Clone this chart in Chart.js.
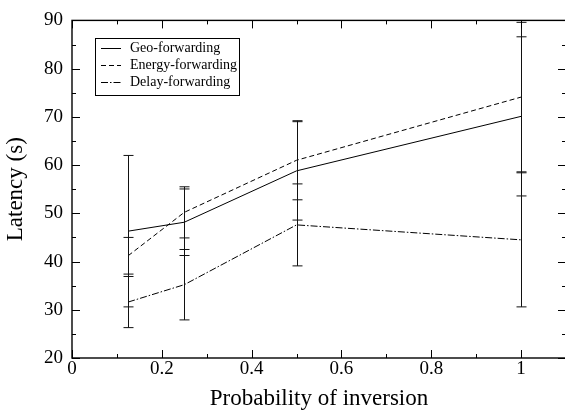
<!DOCTYPE html>
<html><head><meta charset="utf-8">
<script src="https://cdn.jsdelivr.net/npm/chart.js@4/dist/chart.umd.min.js"></script>
<style>html,body{margin:0;padding:0;overflow:hidden;background:#fff}
#wrap{width:567px;height:415px;position:relative}</style>
</head><body><div id="wrap"><canvas id="c" width="567" height="415"></canvas></div>
<script>
const probabilities = [0.125, 0.25, 0.5, 1];
const seriesNames = ['Geo-forwarding', 'Energy-forwarding', 'Delay-forwarding'];
const geoLatency = [46.3, 48.15, 58.8, 70.1];
const geoError = [15.7, 6.9, 10.2, 16.5];
const energyLatency = [41.2, 50.2, 61.0, 74.1];
const energyError = [3.8, 5.3, 8.2, 15.5];
const delayLatency = [31.6, 35.2, 47.6, 44.5];
const delayError = [5.3, 7.3, 8.5, 13.9];
const xTickValues = [0, 0.2, 0.4, 0.6, 0.8, 1];
const xTickLabels = ['0', '0.2', '0.4', '0.6', '0.8', '1'];
const yTickValues = [20, 30, 40, 50, 60, 70, 80, 90];
const yTickLabels = ['20', '30', '40', '50', '60', '70', '80', '90'];
const xMin = 0, xMax = 1.1, yMin = 20, yMax = 90;
const xTitle = 'Probability of inversion';
const yTitle = 'Latency (s)';

const serif = "'Liberation Serif', 'Times New Roman', serif";
const dashes = [[], [5, 3], [7, 2, 1.5, 2]];
const seriesValues = [geoLatency, energyLatency, delayLatency];
const seriesErrors = [geoError, energyError, delayError];

const datasets = seriesNames.map((name, i) => ({
  label: name,
  data: probabilities.map((p, j) => ({x: p, y: seriesValues[i][j]})),
  errors: seriesErrors[i],
  borderColor: '#000',
  borderWidth: 1,
  borderDash: dashes[i],
  pointRadius: 0,
  showLine: true,
  tension: 0,
  fill: false
}));

const framePlugin = {
  id: 'frame',
  afterDatasetsDraw(chart) {
    const {ctx, chartArea: a, scales: {x, y}} = chart;
    ctx.save();
    // error bars
    ctx.strokeStyle = '#111';
    ctx.lineWidth = 1;
    chart.data.datasets.forEach(ds => {
      ds.data.forEach((pt, j) => {
        const px = Math.round(x.getPixelForValue(pt.x)) + 0.5;
        const top = y.getPixelForValue(pt.y + ds.errors[j]);
        const bot = y.getPixelForValue(pt.y - ds.errors[j]);
        ctx.beginPath();
        ctx.moveTo(px, top); ctx.lineTo(px, bot);
        ctx.moveTo(px - 5, top); ctx.lineTo(px + 5, top);
        ctx.moveTo(px - 5, bot); ctx.lineTo(px + 5, bot);
        ctx.stroke();
      });
    });
    // frame
    ctx.strokeStyle = '#000';
    ctx.lineWidth = 1.4;
    ctx.strokeRect(a.left, a.top, a.right - a.left, a.bottom - a.top);
    ctx.lineWidth = 1;
    const maj = 8, mn = 4;
    const xs = [];
    for (let i = 0; i < xTickValues.length; i++) {
      xs.push([xTickValues[i], maj]);
      const step = xTickValues[1] - xTickValues[0];
      const mid = xTickValues[i] + step / 2;
      if (mid < xMax) xs.push([mid, mn]);
    }
    xs.forEach(([v, l]) => {
      const px = Math.round(x.getPixelForValue(v)) + 0.5;
      ctx.beginPath();
      ctx.moveTo(px, a.bottom); ctx.lineTo(px, a.bottom - l);
      ctx.moveTo(px, a.top); ctx.lineTo(px, a.top + l);
      ctx.stroke();
    });
    const ys = [];
    for (let i = 0; i < yTickValues.length; i++) {
      ys.push([yTickValues[i], maj]);
      if (i < yTickValues.length - 1) ys.push([(yTickValues[i] + yTickValues[i + 1]) / 2, mn]);
    }
    ys.forEach(([v, l]) => {
      const py = Math.round(y.getPixelForValue(v)) + 0.5;
      ctx.beginPath();
      ctx.moveTo(a.left, py); ctx.lineTo(a.left + l, py);
      ctx.moveTo(a.right, py); ctx.lineTo(a.right - l, py);
      ctx.stroke();
    });
    // legend
    const bx = 95.5, by = 38.5, bw = 144, bh = 57;
    ctx.lineWidth = 1;
    ctx.strokeRect(bx, by, bw, bh);
    ctx.font = '14px ' + serif;
    ctx.fillStyle = '#000';
    ctx.textBaseline = 'middle';
    chart.data.datasets.forEach((ds, i) => {
      const ry = 48.5 + i * 17;
      ctx.setLineDash(ds.borderDash);
      ctx.beginPath();
      ctx.moveTo(101, ry); ctx.lineTo(121, ry);
      ctx.stroke();
      ctx.setLineDash([]);
      ctx.fillText(ds.label, 130, ry);
    });
    ctx.restore();
  }
};

new Chart(document.getElementById('c'), {
  type: 'scatter',
  data: {datasets},
  options: {
    responsive: false,
    animation: false,
    devicePixelRatio: 1,
    layout: {padding: {top: 13, right: 1, left: 0, bottom: 0}},
    plugins: {legend: {display: false}, tooltip: {enabled: false}},
    scales: {
      x: {
        type: 'linear', min: xMin, max: xMax,
        grid: {display: false, drawTicks: false},
        border: {display: false},
        afterBuildTicks: s => { s.ticks = xTickValues.map(v => ({value: v})); },
        afterFit: s => { s.height = 57; },
        ticks: {
          padding: 0, color: '#000', maxRotation: 0,
          font: {family: serif, size: 19},
          callback: (v) => xTickLabels[xTickValues.indexOf(v)]
        },
        title: {display: true, text: xTitle, color: '#000',
          font: {family: serif, size: 23, lineHeight: 1.2}, padding: {top: 0, bottom: 2}}
      },
      y: {
        type: 'linear', min: yMin, max: yMax,
        grid: {display: false, drawTicks: false},
        border: {display: false},
        afterBuildTicks: s => { s.ticks = yTickValues.map(v => ({value: v})); },
        afterFit: s => { s.width = 72; },
        ticks: {
          padding: 9, color: '#000',
          font: {family: serif, size: 19},
          callback: (v) => yTickLabels[yTickValues.indexOf(v)]
        },
        title: {display: true, text: yTitle, color: '#000',
          font: {family: serif, size: 23, lineHeight: 1.2}, padding: {top: 2, bottom: 0}}
      }
    }
  },
  plugins: [framePlugin]
});
</script></body></html>
